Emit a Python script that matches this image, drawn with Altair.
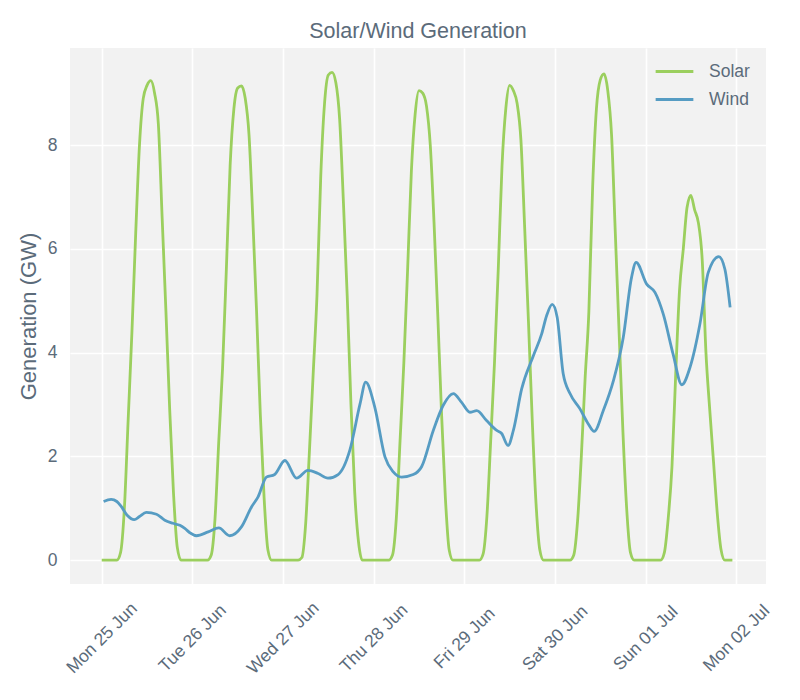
import altair as alt
import pandas as pd

# ---- data ----
START = "2018-06-25"

# hourly solar generation (GW), one list per day, hours 0..23
solar_mon = [0, 0, 0, 0, 0, 0.15, 1.0, 2.7, 4.4, 6.3, 8.0, 8.9, 9.15, 9.24, 9.0, 8.4, 6.6, 4.8, 2.9, 1.3, 0.25, 0, 0, 0]
solar_tue = [0, 0, 0, 0, 0, 0.1, 0.8, 2.3, 3.7, 5.6, 7.6, 8.7, 9.1, 9.14, 8.9, 8.2, 6.6, 4.8, 2.8, 1.2, 0.2, 0, 0, 0]
solar_wed = [0, 0, 0, 0, 0, 0.05, 0.7, 2.1, 3.6, 5.1, 7.4, 8.8, 9.35, 9.4, 9.2, 8.5, 6.9, 5.1, 3.0, 1.3, 0.35, 0, 0, 0]
solar_thu = [0, 0, 0, 0, 0, 0.1, 0.8, 2.3, 3.8, 5.6, 7.5, 8.6, 9.05, 9.0, 8.75, 8.0, 6.5, 4.7, 2.8, 1.2, 0.2, 0, 0, 0]
solar_fri = [0, 0, 0, 0, 0, 0.12, 0.85, 2.3, 3.8, 5.6, 7.6, 8.7, 9.15, 9.05, 8.8, 8.1, 6.4, 4.6, 2.7, 1.1, 0.2, 0, 0, 0]
solar_sat = [0, 0, 0, 0, 0, 0.1, 0.75, 2.0, 3.5, 4.8, 7.2, 8.7, 9.25, 9.37, 9.05, 8.2, 6.3, 4.4, 2.5, 1.0, 0.15, 0, 0, 0]
solar_sun = [0, 0, 0, 0, 0, 0.15, 0.8, 1.8, 3.6, 5.2, 6.0, 6.8, 7.03, 6.75, 6.5, 5.8, 4.0, 2.9, 1.9, 0.9, 0.2, 0, 0, 0]

# wind generation (GW) at the hours (from Mon 25 Jun 00:00) where it was read
wind_hours = [0.5, 2.5, 4.0, 5.2, 6.8, 8.6, 10.0, 11.8, 14.5, 16.7, 18.8, 20.7, 22.0, 23.5,
              25.1, 28.2, 31.0, 33.9, 37.0, 39.7, 41.4, 43.6, 45.8, 48.5, 51.6, 54.6, 57.3,
              59.9, 62.6, 65.7, 68.4, 69.9, 72.3, 75.0, 77.2, 79.4, 82.5, 84.7, 87.8, 90.4,
              93.1, 95.3, 97.5, 99.3, 101.9, 104.6, 105.9, 107.6, 109.0, 111.2, 114.3, 116.5,
              117.8, 119.3, 120.6, 122.2, 124.0, 126.6, 128.8, 130.4, 132.8, 135.5, 138.1,
              140.3, 141.5, 144.3, 146.5, 148.7, 151.3, 153.6, 155.8, 158.4, 160.6, 163.4,
              165.0, 166.4]
wind_values = [1.13, 1.17, 1.13, 1.03, 0.86, 0.78, 0.84, 0.92, 0.885, 0.77, 0.71, 0.67, 0.61, 0.52,
               0.47, 0.545, 0.62, 0.47, 0.64, 1.03, 1.22, 1.6, 1.65, 1.92, 1.58, 1.73, 1.67,
               1.58, 1.65, 2.12, 3.01, 3.43, 2.95, 1.99, 1.70, 1.60, 1.65, 1.80, 2.5, 2.98,
               3.21, 3.04, 2.85, 2.88, 2.69, 2.5, 2.44, 2.21, 2.5, 3.3, 3.94, 4.36,
               4.71, 4.93, 4.68, 3.59, 3.21, 2.92, 2.63, 2.48, 2.88, 3.46, 4.29,
               5.45, 5.74, 5.32, 5.16, 4.74, 3.97, 3.38, 3.72, 4.55, 5.54, 5.85,
               5.61, 4.87]

series_names = ["Solar", "Wind"]
series_colors = ["#9bcf5e", "#569cc3"]
y_ticks = [0, 2, 4, 6, 8]
day_ticks = [(6, 25), (6, 26), (6, 27), (6, 28), (6, 29), (6, 30), (7, 1), (7, 2)]

# ---- build table ----
solar_values = solar_mon + solar_tue + solar_wed + solar_thu + solar_fri + solar_sat + solar_sun
solar_hours = list(range(len(solar_values)))
base = pd.Timestamp(START)

def stamp(h):
    return (base + pd.to_timedelta(h, unit="h")).strftime("%Y-%m-%dT%H:%M:%S")

rows = [{"time": stamp(h), "value": v, "series": "Solar"} for h, v in zip(solar_hours, solar_values)]
rows += [{"time": stamp(h), "value": v, "series": "Wind"} for h, v in zip(wind_hours, wind_values)]
df = pd.DataFrame(rows)

TEXT = "#5b6b7a"
FONT = "Liberation Sans"

x_axis = alt.Axis(
    title=None,
    values=[alt.DateTime(year=2018, month=m, date=d) for m, d in day_ticks],
    format="%a %d %b",
    labelAngle=315,
    labelAlign="center",
    labelBaseline="middle",
    labelPadding=54,
    labelFontSize=17.5,
    labelColor=TEXT,
    labelFont=FONT,
    labelOverlap=False,
    labelFlush=False,
    ticks=False,
    tickSize=0,
    domain=False,
    grid=True,
    gridColor="white",
    gridWidth=1.6,
)
y_axis = alt.Axis(
    title="Generation (GW)",
    values=y_ticks,
    labelFontSize=17.5,
    labelColor=TEXT,
    labelFont=FONT,
    labelPadding=13,
    titleFontSize=22,
    titleFont=FONT,
    titleColor=TEXT,
    titleFontWeight="normal",
    titlePadding=7,
    ticks=False,
    tickSize=0,
    domain=False,
    grid=True,
    gridColor="white",
    gridWidth=1.6,
)

chart = (
    alt.Chart(df)
    .mark_line(strokeWidth=2.8, interpolate="monotone")
    .encode(
        x=alt.X(
            "time:T",
            axis=x_axis,
            scale=alt.Scale(
                domain=[
                    alt.DateTime(year=2018, month=6, date=24, hours=15, minutes=36),
                    alt.DateTime(year=2018, month=7, date=2, hours=7, minutes=54),
                ],
                nice=False,
            ),
        ),
        y=alt.Y(
            "value:Q",
            axis=y_axis,
            scale=alt.Scale(domain=[-0.46, 9.87], nice=False, zero=False),
        ),
        color=alt.Color(
            "series:N",
            scale=alt.Scale(domain=series_names, range=series_colors),
            legend=alt.Legend(
                title=None,
                orient="none",
                legendX=590,
                legendY=9,
                symbolType="M-1.45,0H1.45",
                symbolSize=676,
                symbolStrokeWidth=3,
                labelOffset=20,
                labelFontSize=17.5,
                labelColor=TEXT,
                labelFont=FONT,
                rowPadding=5,
                padding=0,
            ),
        ),
    )
    .properties(
        width=696,
        height=536,
        title=alt.TitleParams(
            "Solar/Wind Generation",
            fontSize=21.5,
            font=FONT,
            color=TEXT,
            fontWeight="normal",
            anchor="middle",
            offset=6,
        ),
        padding={"left": 9, "top": 12, "right": 5, "bottom": 5},
    )
    .configure_view(fill="#f2f2f2", stroke=None)
)

chart.save("out.html", embed_options={"renderer": "svg", "actions": False})
